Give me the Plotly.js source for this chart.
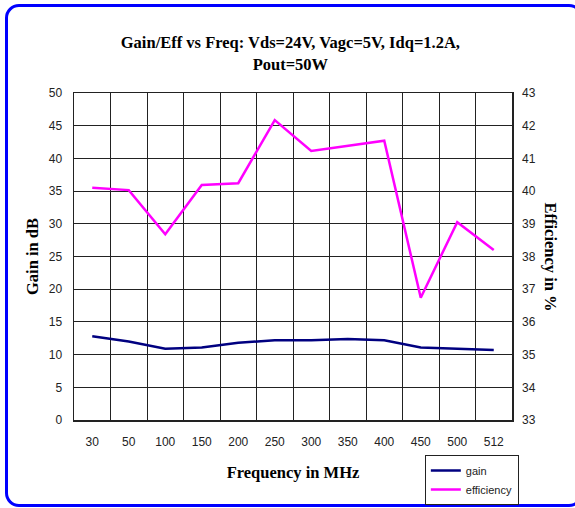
<!DOCTYPE html>
<html>
<head>
<meta charset="utf-8">
<script src="https://cdn.plot.ly/plotly-3.0.1.min.js"></script>
<style>
  html, body { margin: 0; padding: 0; background: #fff; overflow: hidden; }
  #frame { position: absolute; left: 5px; top: 4px; width: 572px; height: 497px;
           border: 3px solid #0000ff; border-radius: 14px; }
  #chart { position: absolute; left: 0; top: 0; width: 575px; height: 508px; }
</style>
</head>
<body>
<div id="frame"></div>
<div id="chart"></div>
<script>
const frequencies = ['30', '50', '100', '150', '200', '250', '300', '350', '400', '450', '500', '512'];
const gain = [12.8, 12.0, 10.9, 11.1, 11.8, 12.2, 12.2, 12.4, 12.2, 11.1, 10.9, 10.7];
const efficiency = [40.10, 40.03, 38.68, 40.19, 40.24, 42.17, 41.23, 41.38, 41.54, 36.74, 39.05, 38.20];
const gainTicks = [0, 5, 10, 15, 20, 25, 30, 35, 40, 45, 50];
const effTicks = [33, 34, 35, 36, 37, 38, 39, 40, 41, 42, 43];

const tickFont = { family: 'Liberation Sans, Arial, sans-serif', size: 12, color: '#222' };
const titleFont = { family: 'Liberation Serif, Times New Roman, serif', size: 16.5, color: '#000' };

const traces = [
  { x: frequencies, y: gain, name: 'gain', type: 'scatter', mode: 'lines',
    line: { color: '#000080', width: 2.5 }, yaxis: 'y' },
  { x: frequencies, y: efficiency, name: 'efficiency', type: 'scatter', mode: 'lines',
    line: { color: '#ff00ff', width: 2.5 }, yaxis: 'y2' }
];

const layout = {
  width: 575, height: 508,
  margin: { l: 74, r: 63, t: 93, b: 88, autoexpand: false },
  paper_bgcolor: 'rgba(0,0,0,0)',
  plot_bgcolor: '#fff',
  title: { text: '<b>Gain/Eff vs Freq: Vds=24V, Vagc=5V, Idq=1.2A,<br>Pout=50W</b>',
           font: titleFont, x: 0.505, xanchor: 'center', y: 0.905, yanchor: 'middle' },
  xaxis: {
    type: 'category', range: [-0.5, 11.5], tickson: 'boundaries', ticks: '', showgrid: true,
    gridcolor: '#222', gridwidth: 1, showline: true, linecolor: '#222', linewidth: 1.5, mirror: true,
    tickfont: tickFont, ticklabelstandoff: 10,
    title: { text: '<b>Frequency in MHz</b>', font: titleFont, standoff: 18 }
  },
  yaxis: {
    range: [0, 50], tickvals: gainTicks, ticks: '', showgrid: true,
    gridcolor: '#222', gridwidth: 1, zeroline: false,
    showline: true, linecolor: '#222', linewidth: 1.5, mirror: true,
    tickfont: tickFont, ticklabelstandoff: 8,
    title: { text: '<b>Gain in dB</b>', font: titleFont, standoff: 6 }
  },
  yaxis2: {
    range: [33, 43], tickvals: effTicks, ticks: '', overlaying: 'y', side: 'right',
    showgrid: false, zeroline: false, showline: false,
    tickfont: tickFont, ticklabelstandoff: 9
  },
  annotations: [
    { text: '<b>Efficiency in %</b>', xref: 'paper', yref: 'paper', x: 1, y: 0.5,
      xshift: 38, showarrow: false, textangle: 90, font: titleFont,
      xanchor: 'center', yanchor: 'middle' }
  ],
  showlegend: true,
  legend: {
    x: 0.801, y: -0.107, xanchor: 'left', yanchor: 'top',
    bordercolor: '#222', borderwidth: 1, bgcolor: '#fff',
    font: { family: 'Liberation Sans, Arial, sans-serif', size: 11, color: '#222' },
    tracegroupgap: 0, itemwidth: 30
  }
};

Plotly.newPlot('chart', traces, layout, { displayModeBar: false, staticPlot: true });
</script>
</body>
</html>
